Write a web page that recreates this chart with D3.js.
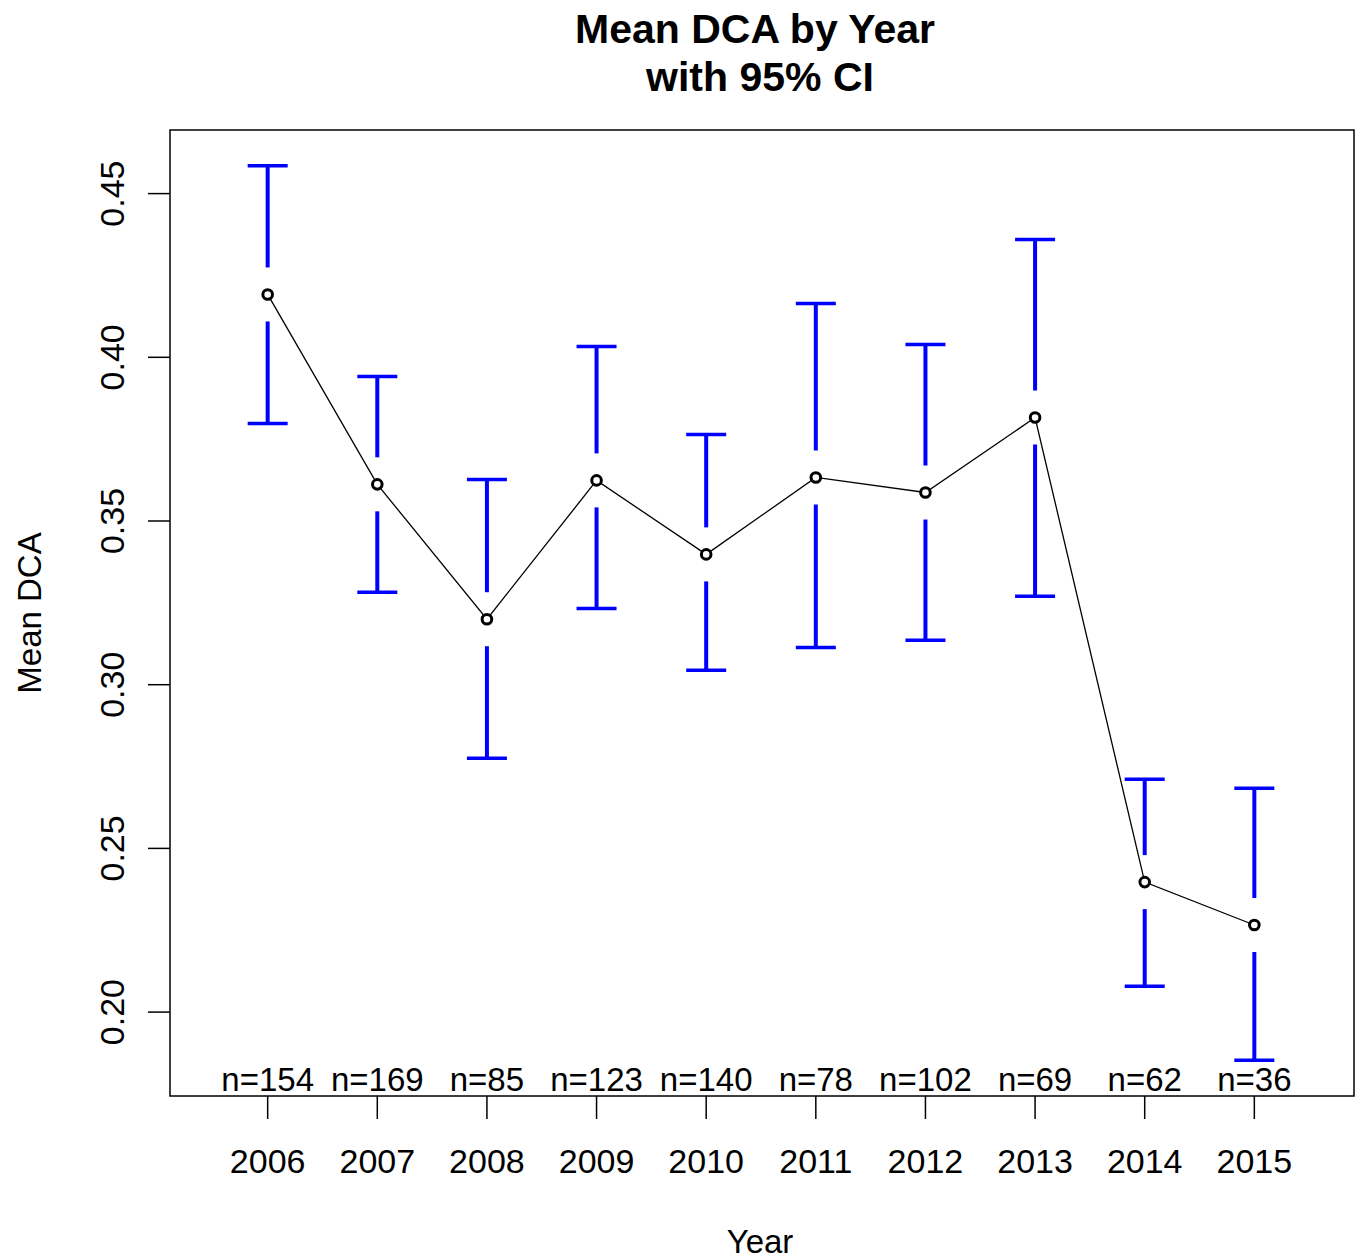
<!DOCTYPE html>
<html lang="en">
<head>
  <meta charset="UTF-8">
  <title>Mean DCA by Year</title>
  <script src="https://d3js.org/d3.v7.min.js"></script>
  <style>
    body { margin: 0; background: #fff; }
    svg { font-family: "Liberation Sans", Arial, sans-serif; }
  </style>
</head>
<body>
  <svg width="1360" height="1260"></svg>
  <script>
    const years = [2006, 2007, 2008, 2009, 2010, 2011, 2012, 2013, 2014, 2015];
    const means = [0.4192, 0.3612, 0.3200, 0.3624, 0.3398, 0.3633, 0.3587, 0.3816, 0.2397, 0.2266];
    const upper = [0.4585, 0.3941, 0.3627, 0.4033, 0.3764, 0.4164, 0.4039, 0.4360, 0.2711, 0.2684];
    const lower = [0.3798, 0.3282, 0.2775, 0.3233, 0.3044, 0.3114, 0.3136, 0.3270, 0.2079, 0.1853];
    const counts = [154, 169, 85, 123, 140, 78, 102, 69, 62, 36];
    const yTicks = [0.20, 0.25, 0.30, 0.35, 0.40, 0.45];

    const data = years.map((yr, i) => ({
      i: i + 1, year: yr, mean: means[i], hi: upper[i], lo: lower[i], n: counts[i]
    }));

    const svg = d3.select("svg");
    const box = {left: 170, right: 1354, top: 130, bottom: 1096};

    // plotmeans style: index positions 0.5..n+0.5 with 4% padding
    const x = d3.scaleLinear().domain([0.1, 10.9]).range([box.left - 1, box.right - 1]);
    const yLo = d3.min(lower), yHi = d3.max(upper), pad = (yHi - yLo) * 0.04;
    const y = d3.scaleLinear().domain([yLo - pad, yHi + pad]).range([box.bottom, box.top]);

    // box
    svg.append("rect")
      .attr("x", box.left).attr("y", box.top)
      .attr("width", box.right - box.left).attr("height", box.bottom - box.top)
      .attr("fill", "none").attr("stroke", "#000").attr("stroke-width", 1.5);

    // y axis
    const yAxis = svg.append("g");
    yAxis.selectAll("line").data(yTicks).join("line")
      .attr("x1", box.left - 22).attr("x2", box.left)
      .attr("y1", d => y(d)).attr("y2", d => y(d))
      .attr("stroke", "#000").attr("stroke-width", 1.5);
    yAxis.selectAll("text").data(yTicks).join("text")
      .attr("transform", d => `translate(124,${y(d)}) rotate(-90)`)
      .attr("text-anchor", "middle")
      .style("font-size", "34px")
      .text(d => d3.format(".2f")(d));

    // x axis
    const xAxis = svg.append("g");
    xAxis.selectAll("line").data(data).join("line")
      .attr("x1", d => x(d.i)).attr("x2", d => x(d.i))
      .attr("y1", box.bottom).attr("y2", box.bottom + 23)
      .attr("stroke", "#000").attr("stroke-width", 1.5);
    xAxis.selectAll("text").data(data).join("text")
      .attr("x", d => x(d.i)).attr("y", 1173)
      .attr("text-anchor", "middle")
      .style("font-size", "34px")
      .text(d => d.year);

    // error bars with gap around the point
    const gap = 27, cap = 20;
    const bars = svg.append("g").attr("stroke", "#0000ff");
    bars.selectAll(".up").data(data).join("line").attr("class", "up")
      .attr("x1", d => x(d.i)).attr("x2", d => x(d.i))
      .attr("y1", d => y(d.hi)).attr("y2", d => y(d.mean) - gap)
      .attr("stroke-width", 4);
    bars.selectAll(".down").data(data).join("line").attr("class", "down")
      .attr("x1", d => x(d.i)).attr("x2", d => x(d.i))
      .attr("y1", d => y(d.mean) + gap).attr("y2", d => y(d.lo))
      .attr("stroke-width", 4);
    bars.selectAll(".capHi").data(data).join("line").attr("class", "capHi")
      .attr("x1", d => x(d.i) - cap).attr("x2", d => x(d.i) + cap)
      .attr("y1", d => y(d.hi)).attr("y2", d => y(d.hi))
      .attr("stroke-width", 3.5);
    bars.selectAll(".capLo").data(data).join("line").attr("class", "capLo")
      .attr("x1", d => x(d.i) - cap).attr("x2", d => x(d.i) + cap)
      .attr("y1", d => y(d.lo)).attr("y2", d => y(d.lo))
      .attr("stroke-width", 3.5);

    // mean line and points
    svg.append("path")
      .datum(data)
      .attr("fill", "none").attr("stroke", "#000").attr("stroke-width", 1.3)
      .attr("d", d3.line().x(d => x(d.i)).y(d => y(d.mean)));
    svg.selectAll(".pt").data(data).join("circle").attr("class", "pt")
      .attr("cx", d => x(d.i)).attr("cy", d => y(d.mean)).attr("r", 4.8)
      .attr("fill", "#fff").attr("stroke", "#000").attr("stroke-width", 3);

    // n labels
    svg.selectAll(".nlab").data(data).join("text").attr("class", "nlab")
      .attr("x", d => x(d.i)).attr("y", 1091)
      .attr("text-anchor", "middle")
      .style("font-size", "33px")
      .text(d => `n=${d.n}`);

    // titles
    svg.append("text").attr("x", 755).attr("y", 43)
      .attr("text-anchor", "middle").style("font-size", "41px").style("font-weight", "bold")
      .text("Mean DCA by Year");
    svg.append("text").attr("x", 760).attr("y", 91)
      .attr("text-anchor", "middle").style("font-size", "41px").style("font-weight", "bold")
      .text("with 95% CI");
    svg.append("text").attr("x", 760).attr("y", 1253)
      .attr("text-anchor", "middle").style("font-size", "33px")
      .text("Year");
    svg.append("text")
      .attr("transform", `translate(41,${(box.top + box.bottom) / 2}) rotate(-90)`)
      .attr("text-anchor", "middle").style("font-size", "33px")
      .text("Mean DCA");
  </script>
</body>
</html>
